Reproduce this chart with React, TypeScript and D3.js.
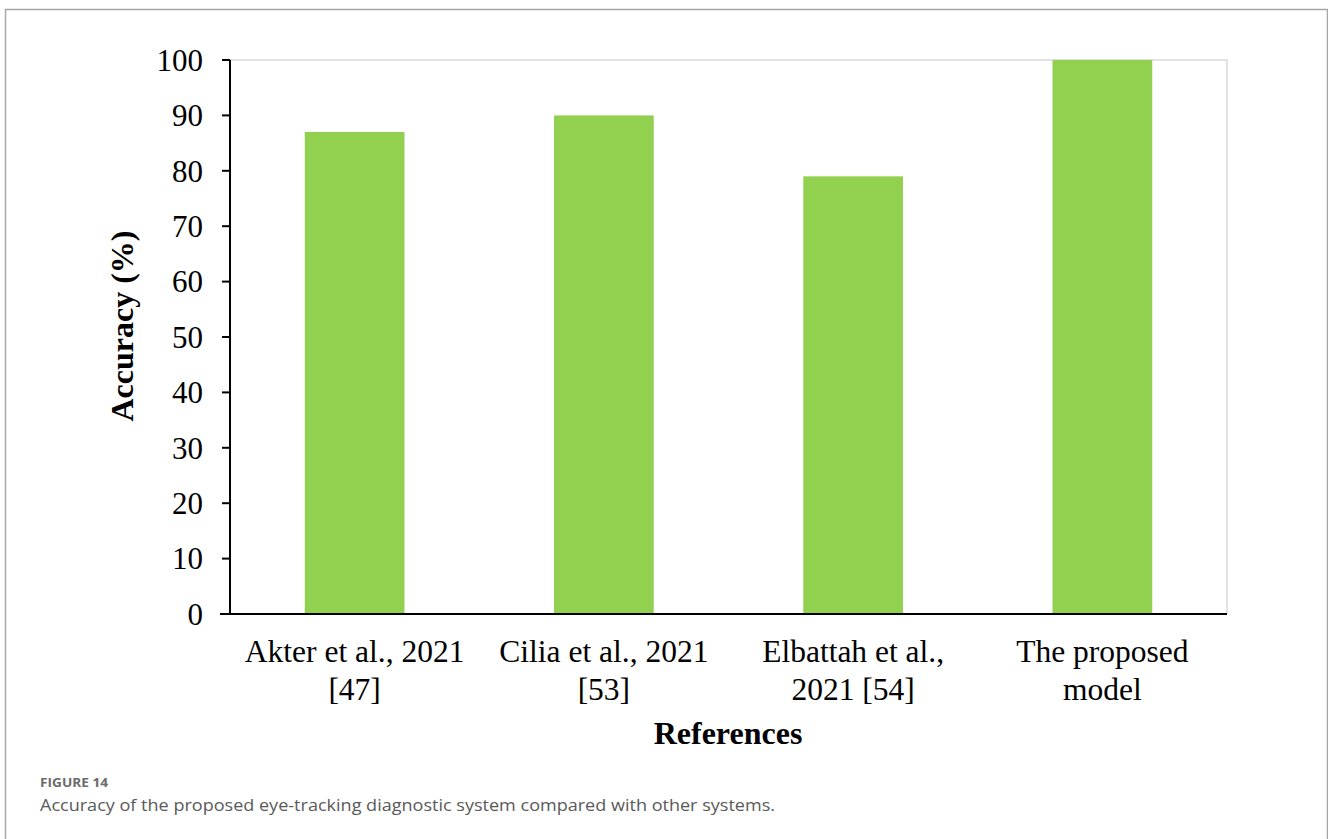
import React from "react";
import * as d3 from "d3";

const categories: string[][] = [
  ["Akter et al., 2021", "[47]"],
  ["Cilia et al., 2021", "[53]"],
  ["Elbattah et al.,", "2021 [54]"],
  ["The proposed", "model"],
];
const accuracy: number[] = [87, 90, 79, 100];
const yTicks: number[] = [0, 10, 20, 30, 40, 50, 60, 70, 80, 90, 100];

const W = 1328;
const H = 839;
const left = 230;
const right = 1227;
const top = 60;
const bottom = 614;

export default function App() {
  const x = d3
    .scaleBand<number>()
    .domain(d3.range(categories.length))
    .range([left, right])
    .paddingInner(0.6)
    .paddingOuter(0.3);
  const y = d3.scaleLinear().domain([0, 100]).range([bottom, top]);
  const serif = "'Liberation Serif', 'Times New Roman', serif";
  const sans = "'Open Sans', Lato, sans-serif";

  return (
    <svg
      width={W}
      height={H}
      style={{ position: "absolute", left: 0, top: 0, background: "#fff" }}
    >
      {/* outer figure frame */}
      <path
        d={`M5.5,${H + 5} V9.5 H1327.5 V${H + 5}`}
        fill="none"
        stroke="#a6a6a6"
        strokeWidth={1.5}
      />
      {/* plot area border (top, right) */}
      <path
        d={`M${left},${top} H${right} V${bottom}`}
        fill="none"
        stroke="#d9d9d9"
        strokeWidth={1.5}
      />
      {accuracy.map((v, i) => (
        <rect
          key={i}
          x={x(i)}
          y={y(v)}
          width={x.bandwidth()}
          height={bottom - y(v)}
          fill="#92D050"
        />
      ))}
      {/* y axis */}
      <line x1={left} x2={left} y1={top} y2={bottom} stroke="#000" strokeWidth={2} />
      {yTicks.map((t) => (
        <g key={t}>
          <line x1={left - 8} x2={left} y1={y(t)} y2={y(t)} stroke="#000" strokeWidth={2} />
          <text
            x={203}
            y={y(t)}
            dy="0.35em"
            textAnchor="end"
            fontFamily={serif}
            fontSize={31}
            fill="#000"
          >
            {t}
          </text>
        </g>
      ))}
      {/* x axis */}
      <line x1={220} x2={right} y1={bottom} y2={bottom} stroke="#000" strokeWidth={2} />
      {categories.map((lines, i) => (
        <text
          key={i}
          x={(x(i) as number) + x.bandwidth() / 2}
          textAnchor="middle"
          fontFamily={serif}
          fontSize={31.5}
          fill="#000"
        >
          {lines.map((l, j) => (
            <tspan key={j} x={(x(i) as number) + x.bandwidth() / 2} y={662 + j * 38}>
              {l}
            </tspan>
          ))}
        </text>
      ))}
      <text
        x={728}
        y={744}
        textAnchor="middle"
        fontFamily={serif}
        fontSize={32}
        fontWeight="bold"
        fill="#000"
      >
        References
      </text>
      <text
        transform={`translate(133,326) rotate(-90)`}
        textAnchor="middle"
        fontFamily={serif}
        fontSize={32}
        fontWeight="bold"
        fill="#000"
      >
        Accuracy (%)
      </text>
      {/* caption */}
      <text
        x={40}
        y={787}
        fontFamily={sans}
        fontSize={12.5}
        fontWeight="bold"
        fill="#6b6b6b"
        textLength={68}
        lengthAdjust="spacingAndGlyphs"
      >
        FIGURE 14
      </text>
      <text
        x={40}
        y={811}
        fontFamily={sans}
        fontSize={17}
        fill="#595959"
        textLength={735}
        lengthAdjust="spacingAndGlyphs"
      >
        Accuracy of the proposed eye-tracking diagnostic system compared with other systems.
      </text>
    </svg>
  );
}
